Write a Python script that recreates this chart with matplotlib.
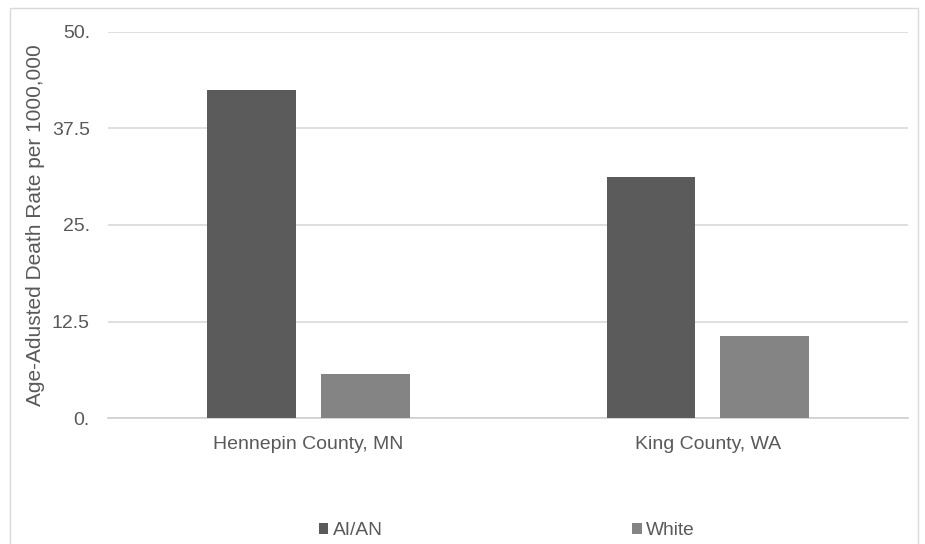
import matplotlib.pyplot as plt
import numpy as np
from matplotlib.patches import Patch, Rectangle

plt.rcParams['font.family'] = ['Liberation Sans', 'DejaVu Sans']

counties = ['Hennepin County, MN', 'King County, WA']
series_names = ['AI/AN', 'White']
aian_rates = [42.5, 31.2]
white_rates = [5.7, 10.6]
y_ticks = [0, 12.5, 25, 37.5, 50]
y_tick_labels = ['0.', '12.5', '25.', '37.5', '50.']

colors = ['#5b5b5b', '#848484']
text_color = '#595959'

fig = plt.figure(figsize=(9.25, 5.44), dpi=100)
ax = fig.add_axes([0.1168, 0.2316, 0.8648, 0.7096])

x = np.arange(len(counties))
width = 0.2225
offset = 0.1425
ax.bar(x - offset, aian_rates, width, color=colors[0], zorder=3)
ax.bar(x + offset, white_rates, width, color=colors[1], zorder=3)

ax.set_xlim(-0.5, 1.5)
ax.set_ylim(0, 50)
ax.set_yticks(y_ticks)
ax.set_yticklabels(y_tick_labels)
ax.set_xticks(x)
ax.set_xticklabels(counties)
ax.tick_params(axis='both', length=0, labelsize=14, colors=text_color)
ax.tick_params(axis='y', pad=13)
ax.tick_params(axis='x', pad=13)
ax.grid(axis='y', color='#d9d9d9', linewidth=1.2, zorder=0)
for s in ['top', 'right', 'left']:
    ax.spines[s].set_visible(False)
ax.spines['bottom'].set_color('#d0d0d0')
ax.spines['bottom'].set_linewidth(1.2)

ax.set_ylabel('Age-Adusted Death Rate per 1000,000', fontsize=15, color=text_color, labelpad=5)

handles = [Patch(facecolor=c, label=n) for c, n in zip(colors, series_names)]
fig.legend(handles=handles, loc='center', bbox_to_anchor=(0.548, 0.025), ncol=2,
           frameon=False, fontsize=13.8, handlelength=0.5, handleheight=0.5,
           handletextpad=0.25, columnspacing=13.0, labelcolor=text_color)

# light frame around the chart area
fig.patches.append(Rectangle((10 / 925, -0.1), 908 / 925, 1 - 8 / 544 + 0.1,
                             transform=fig.transFigure, fill=False,
                             edgecolor='#d9d9d9', linewidth=1))

fig.savefig('out.png', dpi=100)
